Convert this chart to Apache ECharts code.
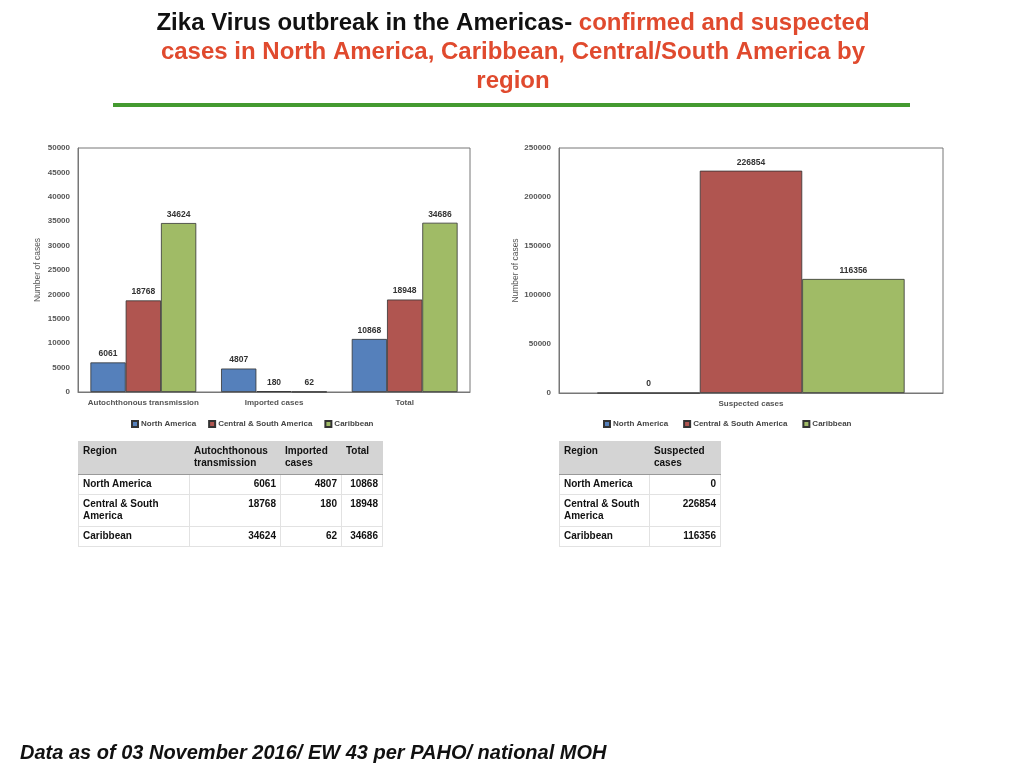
<!DOCTYPE html>
<html>
<head>
<meta charset="utf-8">
<script src="https://cdn.jsdelivr.net/npm/echarts@6/dist/echarts.min.js"></script>
<style>
    body { margin: 0; background: #fff; }
    #wrap { position: relative; width: 1024px; height: 768px; overflow: hidden; }
    #chart { position: absolute; left: 0; top: 0; width: 1024px; height: 768px; }
    table.tb { position: absolute; border-collapse: collapse; font-family: "Liberation Sans", Arial, sans-serif;
        font-weight: bold; font-size: 10px; color: #111; line-height: 12px; }
    table.tb td { border: 1px solid #e2e2e2; vertical-align: top; padding: 3px 4px; }
    table.tb tr.hd td { background: #d4d4d4; border-color: #d4d4d4; border-bottom: 1px solid #999; height: 26px; }
    table.tb td.n { text-align: right; }
</style>
</head>
<body>
<div id="wrap">
    <div id="chart"></div>
    <table class="tb" id="tb1" style="left:78px;top:441px;width:305px;"></table>
    <table class="tb" id="tb2" style="left:559px;top:441px;width:162px;"></table>
</div>
<script>
// data
var regions = ['North America', 'Central & South America', 'Caribbean'];
var regionsTable = ['North America', 'Central & South<br>America', 'Caribbean'];
var confirmedCats = ['Autochthonous transmission', 'Imported cases', 'Total'];
var autochthonous = [6061, 18768, 34624];
var imported = [4807, 180, 62];
var totals = [10868, 18948, 34686];
var suspectedCats = ['Suspected cases'];
var suspected = [0, 226854, 116356];
var colors = ['#5580bb', '#b05550', '#a0bb66'];

// tables
function buildTables() {
    var h = '<tr class="hd"><td style="width:102px">Region</td><td style="width:82px">Autochthonous<br>transmission</td>' +
        '<td style="width:52px">Imported<br>cases</td><td>Total</td></tr>';
    for (var i = 0; i < regions.length; i++) {
        h += '<tr style="height:' + (i == 1 ? 32 : 20) + 'px"><td>' + regionsTable[i] + '</td><td class="n">' + autochthonous[i] +
            '</td><td class="n">' + imported[i] + '</td><td class="n">' + totals[i] + '</td></tr>';
    }
    document.getElementById('tb1').innerHTML = h;
    var h2 = '<tr class="hd"><td style="width:81px">Region</td><td>Suspected<br>cases</td></tr>';
    for (var j = 0; j < regions.length; j++) {
        h2 += '<tr style="height:' + (j == 1 ? 32 : 20) + 'px"><td>' + regionsTable[j] + '</td><td class="n">' + suspected[j] + '</td></tr>';
    }
    document.getElementById('tb2').innerHTML = h2;
}
buildTables();

var font = '"Liberation Sans", Arial, sans-serif';
var axisLab = { fontSize: 8, fontWeight: 'bold', color: '#555', fontFamily: font };
var dataLab = { show: true, position: 'top', distance: 4, fontSize: 8.5, fontWeight: 'bold', color: '#333', fontFamily: font };

var series = [];
for (var i = 0; i < regions.length; i++) {
    series.push({
        name: regions[i], type: 'bar', xAxisIndex: 0, yAxisIndex: 0,
        data: [autochthonous[i], imported[i], totals[i]],
        barGap: '0%', barCategoryGap: '19%',
        itemStyle: { color: colors[i], borderColor: '#333', borderWidth: 0.8 },
        label: dataLab
    });
}
for (var k = 0; k < regions.length; k++) {
    series.push({
        name: regions[k], type: 'bar', xAxisIndex: 1, yAxisIndex: 1,
        data: [suspected[k]],
        barGap: '0%', barCategoryGap: '20%',
        itemStyle: { color: colors[k], borderColor: '#333', borderWidth: 0.8 },
        label: dataLab
    });
}

function yAxis(grid, max, step) {
    return {
        type: 'value', gridIndex: grid, min: 0, max: max, interval: step,
        name: 'Number of cases', nameLocation: 'middle', nameGap: 36,
        nameTextStyle: { fontSize: 8.5, color: '#555', fontFamily: font },
        axisLine: { show: true, lineStyle: { color: '#777' } },
        axisTick: { show: false }, splitLine: { show: false },
        axisLabel: Object.assign({ margin: 8, formatter: function (v) { return String(v); } }, axisLab)
    };
}
function xAxis(grid, cats) {
    return {
        type: 'category', gridIndex: grid, data: cats,
        axisLine: { lineStyle: { color: '#777' } }, axisTick: { show: false },
        axisLabel: Object.assign({ margin: 7, interval: 0 }, axisLab)
    };
}
function legend(left, gap) {
    return {
        data: regions, left: left, top: 415, itemWidth: 6, itemHeight: 6, itemGap: gap,
        icon: 'rect', selectedMode: false,
        textStyle: { fontSize: 8, fontWeight: 'bold', color: '#444', fontFamily: font, padding: [0, 0, 0, -2] }
    };
}

var chart = echarts.init(document.getElementById('chart'));
chart.setOption({
    animation: false,
    title: {
        left: 508, top: 4, textAlign: 'center',
        text: '{b|Zika Virus outbreak in the Americas- }{r|confirmed and suspected}\n{r|cases in North America, Caribbean, Central/South America by}\n{r|region}',
        textStyle: {
            rich: {
                b: { fontSize: 24, fontWeight: 'bold', color: '#111', fontFamily: font, lineHeight: 29 },
                r: { fontSize: 24, fontWeight: 'bold', color: '#e04a2e', fontFamily: font, lineHeight: 29 }
            }
        }
    },
    legend: [legend(126, 12), legend(598, 15)],
    grid: [
        { left: 78, top: 148, width: 392, height: 244, show: true, borderColor: '#777', borderWidth: 1 },
        { left: 559, top: 148, width: 384, height: 245, show: true, borderColor: '#777', borderWidth: 1 }
    ],
    xAxis: [xAxis(0, confirmedCats), xAxis(1, suspectedCats)],
    yAxis: [yAxis(0, 50000, 5000), yAxis(1, 250000, 50000)],
    series: series,
    graphic: [
        { type: 'rect', shape: { x: 113, y: 103, width: 797, height: 4 }, style: { fill: '#449a30' } },
        { type: 'text', left: 20, top: 743, style: { text: 'Data as of 03 November 2016/ EW 43 per PAHO/ national MOH',
            font: 'italic bold 20px ' + font, fill: '#111' } }
    ]
});
</script>
</body>
</html>
